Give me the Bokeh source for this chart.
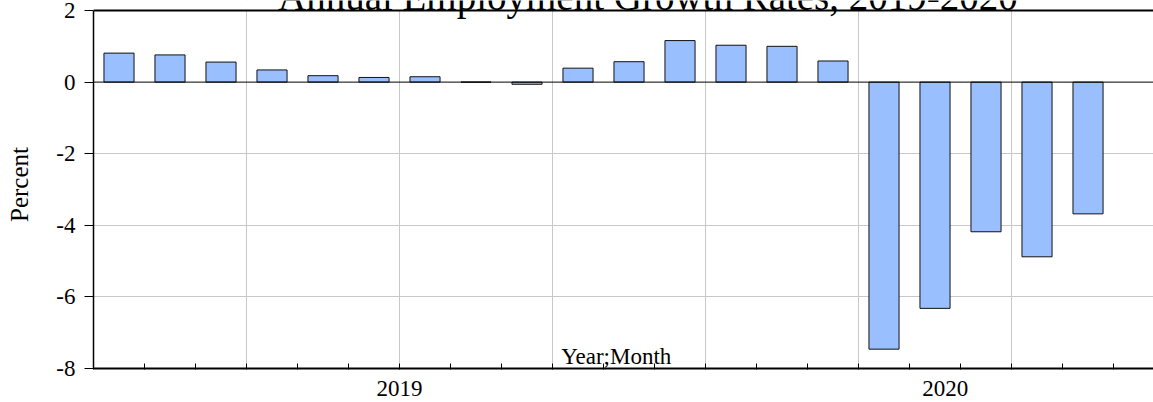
from bokeh.plotting import figure
from bokeh.models import FixedTicker, Span, Label, ColumnDataSource, BoxAnnotation
from bokeh.embed import file_html
from bokeh.resources import INLINE

# ---- data ----
months = ["2019-01", "2019-02", "2019-03", "2019-04", "2019-05", "2019-06",
          "2019-07", "2019-08", "2019-09", "2019-10", "2019-11", "2019-12",
          "2020-01", "2020-02", "2020-03", "2020-04", "2020-05", "2020-06",
          "2020-07", "2020-08"]
growth = [0.81, 0.76, 0.56, 0.34, 0.18, 0.13, 0.15, 0.0, -0.06, 0.39, 0.57, 1.16,
          1.03, 1.00, 0.59, -7.46, -6.32, -4.18, -4.88, -3.68]
year_labels = ["2019", "2020"]
year_label_pos = [6, 16.7]
y_ticks = [-8, -6, -4, -2, 0, 2]
y_tick_labels = ["-8", "-6", "-4", "-2", "0", "2"]
quarter_grid = [3, 6, 9, 12, 15, 18]

FONT = "Liberation Serif"
Y_MIN, Y_MAX = -8, 2

x_idx = [i + 0.5 for i in range(len(months))]
src = ColumnDataSource(dict(x=x_idx, top=growth, month=months))

# frame extends a little above the top axis value so the title can overlap it
p = figure(width=1153, height=402, x_range=(0, 20.784), y_range=(Y_MIN, 2.28),
           output_backend="svg", toolbar_location=None,
           min_border_left=93, min_border_right=0, min_border_top=0,
           min_border_bottom=34,
           styles={"position": "absolute", "top": "0px", "left": "0px"})
p.outline_line_color = None
p.background_fill_color = "white"
p.border_fill_color = "white"

# grids
p.xgrid.ticker = FixedTicker(ticks=quarter_grid)
p.ygrid.ticker = FixedTicker(ticks=[-6, -4, -2])
p.grid.grid_line_color = "#c8c8c8"
p.grid.grid_line_width = 1

# bars
p.vbar(x="x", top="top", bottom=0, width=0.59, source=src,
       fill_color="#99BFFF", line_color="#111111", line_width=1)

# white cover above the top of the value range, then top line and zero line
p.add_layout(BoxAnnotation(bottom=Y_MAX, fill_color="white", fill_alpha=1.0, line_color=None))
p.add_layout(Span(location=0, dimension="width", line_color="black", line_width=1))
p.add_layout(Span(location=Y_MAX, dimension="width", line_color="black", line_width=2))

# x axis
xa = p.xaxis[0]
xa.ticker = FixedTicker(ticks=year_label_pos, minor_ticks=list(range(0, 21)))
xa.major_label_overrides = {pos: lab for pos, lab in zip(year_label_pos, year_labels)}
xa.major_tick_line_color = None
xa.minor_tick_in = 5
xa.minor_tick_out = 1
xa.minor_tick_line_color = "black"
xa.axis_line_width = 2
xa.axis_line_color = "black"
xa.major_label_text_font = FONT
xa.major_label_text_font_size = "23px"
xa.major_label_text_color = "black"
xa.major_label_standoff = 6

# y axis
ya = p.yaxis[0]
ya.ticker = FixedTicker(ticks=y_ticks)
ya.bounds = (Y_MIN, Y_MAX)
ya.major_label_overrides = {t: s for t, s in zip(y_ticks, y_tick_labels)}
ya.major_tick_in = 0
ya.major_tick_out = 9
ya.major_tick_line_color = "black"
ya.minor_tick_line_color = None
ya.axis_line_width = 1.5
ya.axis_line_color = "black"
ya.major_label_text_font = FONT
ya.major_label_text_font_size = "23px"
ya.major_label_text_color = "black"
ya.major_label_standoff = 9
ya.axis_label = "Percent"
ya.axis_label_text_font = FONT
ya.axis_label_text_font_size = "25px"
ya.axis_label_text_font_style = "normal"
ya.axis_label_text_color = "black"
ya.axis_label_standoff = 20

# title (cut off at top like the reference)
p.add_layout(Label(x=10.87, y=Y_MAX, y_offset=14, text="Annual Employment Growth Rates, 2019-2020",
                   text_font=FONT, text_font_size="39px", text_align="center",
                   text_baseline="middle", text_color="black"))

# x axis title inside the plot
p.add_layout(Label(x=10.25, y=Y_MIN, y_offset=12, text="Year;Month",
                   text_font=FONT, text_font_size="23px", text_align="center",
                   text_baseline="middle", text_color="black"))

open("out.html", "w").write(file_html(p, INLINE))
